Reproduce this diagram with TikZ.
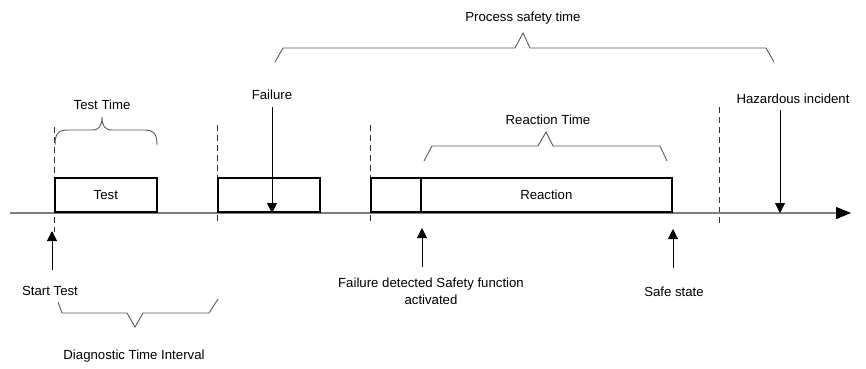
\documentclass[tikz,border=0pt]{standalone}
\usepackage{fontspec}
\setmainfont{Liberation Sans}
\usetikzlibrary{arrows.meta}
\definecolor{brkcol}{RGB}{90,90,90}
\definecolor{dshcol}{RGB}{50,50,50}
\definecolor{axcol}{RGB}{125,125,125}
\begin{document}
\begin{tikzpicture}[x=1pt,y=-1pt,
  lbl/.style={font=\fontsize{13.2}{17}\selectfont, inner sep=0pt, align=center},
  box/.style={draw=black, line width=1.6pt, fill=white, inner sep=0pt, anchor=south west, minimum height=34pt, font=\fontsize{13.2}{16}\selectfont},
  arr/.style={draw=black, line width=0.9pt, -{Triangle[length=10pt,width=10pt]}},
  brk/.style={draw=brkcol, line width=0.9pt, line join=miter},
  dsh/.style={draw=dshcol, line width=0.9pt, dash pattern=on 6pt off 4pt},
  axis/.style={draw=axcol, line width=1.3pt, -{Triangle[length=15pt,width=12pt,color=black,fill=black]}}
]
\useasboundingbox[fill=white] (0,0) rectangle (866,368);

% dashed markers
\coordinate (d1a) at (54,127); \coordinate (d1b) at (54,232);
\coordinate (d2a) at (217,125); \coordinate (d2b) at (217,223);
\coordinate (d3a) at (370,125); \coordinate (d3b) at (370,222);
\coordinate (d4a) at (719,107); \coordinate (d4b) at (719,227);
\draw[dsh] (d1a) -- (d1b);
\draw[dsh] (d2a) -- (d2b);
\draw[dsh] (d3a) -- (d3b);
\draw[dsh] (d4a) -- (d4b);

% timeline
\coordinate (t0) at (10,213); \coordinate (t1) at (851,213);
\draw[axis] (t0) -- (t1);

% boxes
\node[box, minimum width=102pt] (test) at (54,213) {Test};
\node[box, minimum width=102pt] (fail) at (217,213) {};
\node[box, minimum width=50pt] (det) at (370,213) {};
\node[box, minimum width=251pt] (react) at (420,213) {Reaction};

% labels
\node[lbl] (testtime) at (102,105) {Test Time};
\node[lbl] (failure) at (272,95) {Failure};
\node[lbl] (starttest) at (50,291) {Start Test};
\node[lbl] (diag) at (134,356) {Diagnostic Time Interval};
\node[lbl] (pst) at (523,18) {Process safety time};
\node[lbl] (rt) at (548,120) {Reaction Time};
\node[lbl] (fdet) at (431,291) {Failure detected Safety function\\activated};
\node[lbl] (safe) at (674,292) {Safe state};
\node[lbl] (haz) at (793,99) {Hazardous incident};

% arrows
\coordinate (a1s) at (52,270); \coordinate (a1e) at (52,231);
\coordinate (a2s) at (272,107); \coordinate (a2e) at (272,213);
\coordinate (a3s) at (422,267); \coordinate (a3e) at (422,228);
\coordinate (a4s) at (673,268); \coordinate (a4e) at (673,229);
\coordinate (a5s) at (780,110); \coordinate (a5e) at (780,213);
\draw[arr] (a1s) -- (a1e);
\draw[arr] (a2s) -- (a2e);
\draw[arr] (a3s) -- (a3e);
\draw[arr] (a4s) -- (a4e);
\draw[arr] (a5s) -- (a5e);

% brackets
\draw[brk] (55,145) .. controls (55,134) and (58,130) .. (68,130) -- (92,130)
  .. controls (99,130) and (102,126) .. (102,117)
  .. controls (102,126) and (105,130) .. (112,130) -- (145,130)
  .. controls (154,130) and (157,134) .. (157,145);
\draw[brk] (275,62) -- (283,48) -- (515,48) -- (523,33) -- (530,48) -- (766,48) -- (774,62);
\draw[brk] (424,161) -- (432,146) -- (538,146) -- (546,132) -- (553,146) -- (660,146) -- (667,161);
\draw[brk] (58,302) -- (62,313) -- (127,313) -- (135,327) -- (143,313) -- (209,313) -- (218,299);
\end{tikzpicture}
\end{document}
